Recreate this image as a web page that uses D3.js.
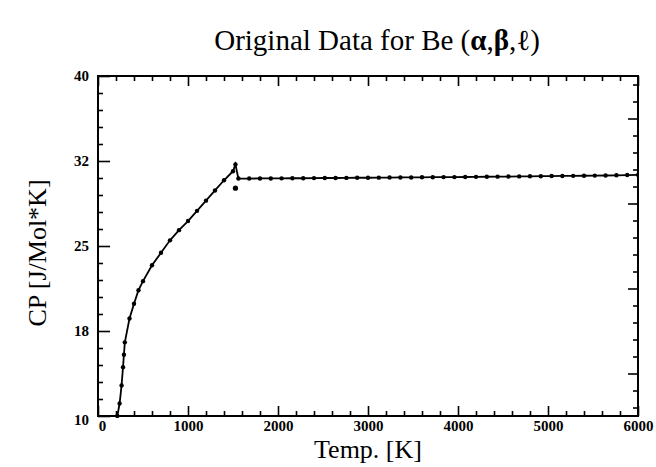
<!DOCTYPE html>
<html>
<head>
<meta charset="utf-8">
<script src="https://cdn.jsdelivr.net/npm/d3@7"></script>
<style>
  html, body { margin: 0; padding: 0; background: #fff; }
  svg { display: block; }
</style>
</head>
<body>
<svg id="chart" width="656" height="467"></svg>
<script>
// ---- data ----
const alphaT  = [215, 240, 262, 278, 288, 298, 350, 400, 450, 500, 600, 700, 800, 900, 1000, 1100, 1200, 1300, 1400, 1500, 1527];
const alphaCp = [10.0, 11.1, 12.7, 14.3, 15.4, 16.5, 18.6, 19.9, 21.1, 21.9, 23.3, 24.4, 25.5, 26.4, 27.2, 28.1, 29.0, 29.9, 30.8, 31.6, 32.2];
const betaT   = [1527];
const betaCp  = [30.1];
const liqT  = [1560, 1680, 1800, 1920, 2040, 2160, 2280, 2400, 2520, 2640, 2760, 2880, 3000, 3120, 3240, 3360, 3480, 3600, 3720, 3840, 3960, 4080, 4200, 4320, 4440, 4560, 4680, 4800, 4920, 5040, 5160, 5280, 5400, 5520, 5640, 5760, 5880, 6000];
const liqCp = [30.95, 30.95, 30.96, 30.96, 30.97, 30.98, 30.98, 30.99, 31.0, 31.0, 31.01, 31.02, 31.02, 31.03, 31.04, 31.05, 31.05, 31.06, 31.07, 31.08, 31.08, 31.09, 31.1, 31.11, 31.12, 31.13, 31.14, 31.15, 31.16, 31.17, 31.18, 31.19, 31.2, 31.21, 31.22, 31.24, 31.26, 31.28];

const xTickValues = [0, 1000, 2000, 3000, 4000, 5000, 6000];
const xTickLabels = ["0", "1000", "2000", "3000", "4000", "5000", "6000"];
const yTickValues = [10, 17.5, 25, 32.5, 40];
const yTickLabels = ["10", "18", "25", "32", "40"];
const yRightTickValues = [13.75, 21.25, 28.75, 36.25];

const titleText = "Original Data for Be (";
const xTitle = "Temp. [K]";
const yTitle = "CP [J/Mol*K]";

// ---- layout ----
const L = 98, R = 638, T = 76, B = 416;
const svg = d3.select("#chart");
const x = d3.scaleLinear().domain([0, 6000]).range([L, R]);
const y = d3.scaleLinear().domain([10, 40]).range([B, T]);

const tickFont = "bold 15px 'Liberation Serif', serif";

// frame
svg.append("rect").attr("x", L).attr("y", T).attr("width", R - L).attr("height", B - T)
  .attr("fill", "none").attr("stroke", "#000").attr("stroke-width", 2);

function styleAxis(g) {
  g.select(".domain").remove();
  g.selectAll(".tick line").attr("stroke", "#000").attr("stroke-width", 1.6);
  g.selectAll(".tick text").style("font", tickFont).attr("fill", "#000");
}

const xMinor = d3.range(200, 6000, 200).filter(v => v % 1000 !== 0);
const yMinor = d3.range(10, 40, 1.5).filter(v => !yTickValues.some(t => Math.abs(t - v) < 1e-6));
const yRightMinor = d3.range(10.75, 40, 1.5).filter(v => !yRightTickValues.some(t => Math.abs(t - v) < 1e-6));

// bottom
svg.append("g").attr("transform", `translate(0,${B})`)
  .call(d3.axisBottom(x).tickValues(xTickValues).tickSize(-10)
        .tickFormat((d, i) => xTickLabels[i]))
  .call(styleAxis)
  .call(g => g.selectAll(".tick text").attr("y", 4)
        .attr("dx", (d, i) => i === 0 ? 4 : 0));
svg.append("g").attr("transform", `translate(0,${B})`)
  .call(d3.axisBottom(x).tickValues(xMinor).tickSize(-5).tickFormat(""))
  .call(styleAxis);
// top
svg.append("g").attr("transform", `translate(0,${T})`)
  .call(d3.axisTop(x).tickValues(xTickValues).tickSize(-10).tickFormat(""))
  .call(styleAxis);
svg.append("g").attr("transform", `translate(0,${T})`)
  .call(d3.axisTop(x).tickValues(xMinor).tickSize(-5).tickFormat(""))
  .call(styleAxis);
// left
svg.append("g").attr("transform", `translate(${L},0)`)
  .call(d3.axisLeft(y).tickValues(yTickValues).tickSize(-12)
        .tickFormat((d, i) => yTickLabels[i]))
  .call(styleAxis)
  .call(g => g.selectAll(".tick text").attr("x", -9)
        .attr("dy", (d, i) => i === 0 ? "0.55em" : "0.32em"));
svg.append("g").attr("transform", `translate(${L},0)`)
  .call(d3.axisLeft(y).tickValues(yMinor).tickSize(-5).tickFormat(""))
  .call(styleAxis);
// right (offset ticks)
svg.append("g").attr("transform", `translate(${R},0)`)
  .call(d3.axisRight(y).tickValues(yRightTickValues).tickSize(-10).tickFormat(""))
  .call(styleAxis);
svg.append("g").attr("transform", `translate(${R},0)`)
  .call(d3.axisRight(y).tickValues(yRightMinor).tickSize(-5).tickFormat(""))
  .call(styleAxis);

// ---- data marks ----
const mainPts = alphaT.map((t, i) => [t, alphaCp[i]]).concat(liqT.map((t, i) => [t, liqCp[i]]));
const clipId = "plotclip";
svg.append("clipPath").attr("id", clipId).append("rect")
  .attr("x", L).attr("y", T).attr("width", R - L).attr("height", B - T + 2);
const plot = svg.append("g").attr("clip-path", `url(#${clipId})`);

plot.append("path").datum(mainPts)
  .attr("d", d3.line().x(d => x(d[0])).y(d => y(d[1])))
  .attr("fill", "none").attr("stroke", "#000").attr("stroke-width", 1.8);

plot.selectAll("circle.pt").data(mainPts).enter().append("circle")
  .attr("class", "pt").attr("cx", d => x(d[0])).attr("cy", d => y(d[1])).attr("r", 2.2).attr("fill", "#000");

plot.selectAll("circle.beta").data(betaT.map((t, i) => [t, betaCp[i]])).enter().append("circle")
  .attr("class", "beta").attr("cx", d => x(d[0])).attr("cy", d => y(d[1])).attr("r", 2.6).attr("fill", "#000");

// ---- titles ----
const title = svg.append("text").attr("x", 377).attr("y", 50).attr("text-anchor", "middle")
  .style("font", "29px 'Liberation Serif', serif").attr("fill", "#000");
title.append("tspan").text(titleText);
title.append("tspan").attr("font-weight", "bold").text("\u03B1");
title.append("tspan").text(",");
title.append("tspan").attr("font-weight", "bold").text("\u03B2");
title.append("tspan").text(",\u2113)");

svg.append("text").attr("x", 368).attr("y", 458).attr("text-anchor", "middle")
  .style("font", "26px 'Liberation Serif', serif").attr("fill", "#000").text(xTitle);

svg.append("text").attr("transform", "translate(46,253) rotate(-90)").attr("text-anchor", "middle")
  .style("font", "26px 'Liberation Serif', serif").attr("fill", "#000").text(yTitle);
</script>
</body>
</html>
